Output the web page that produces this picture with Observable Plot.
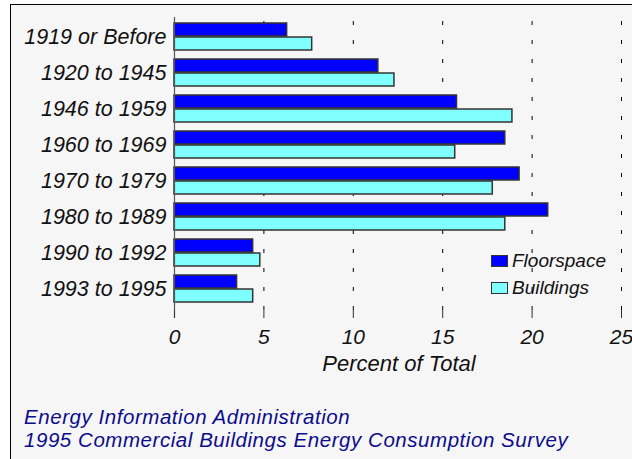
<!DOCTYPE html>
<html>
<head>
<meta charset="utf-8">
<script src="https://cdn.jsdelivr.net/npm/d3@7"></script>
<script src="https://cdn.jsdelivr.net/npm/@observablehq/plot@0.6"></script>
<style>
html, body { margin: 0; padding: 0; background: #ffffff; }
body { width: 632px; height: 459px; position: relative; overflow: hidden; font-family: "Liberation Sans", Arial, sans-serif; }
#frame { position: absolute; left: 10px; top: 4px; width: 640px; height: 470px; border-left: 1px solid #000; border-top: 1px solid #000; background: #f6f6f6; }
#chart { position: absolute; left: 0; top: 0; }
#chart svg { overflow: visible; }
.sw { position: absolute; left: 491px; width: 17px; height: 12px; box-sizing: border-box; border: 1.5px solid #333; }
.lt { position: absolute; left: 512px; font-style: italic; font-size: 19px; line-height: 19px; color: #111; white-space: nowrap; }
.ft { position: absolute; left: 24px; font-style: italic; font-size: 20.5px; line-height: 23px; letter-spacing: 0.55px; color: #0c0c8c; white-space: nowrap; }
</style>
</head>
<body>
<div id="frame"></div>
<div id="chart"></div>
<div id="legend"></div>
<div id="footer"></div>
<script>
// ---- data ----
const periods = ["1919 or Before", "1920 to 1945", "1946 to 1959", "1960 to 1969",
                 "1970 to 1979", "1980 to 1989", "1990 to 1992", "1993 to 1995"];
const floorspace = [6.3, 11.4, 15.8, 18.5, 19.3, 20.9, 4.4, 3.5];
const buildings  = [7.7, 12.3, 18.9, 15.7, 17.8, 18.5, 4.8, 4.4];
const series = ["Floorspace", "Buildings"];
const seriesColors = ["#0000ff", "#80ffff"];
const xTicks = [0, 5, 10, 15, 20, 25];
const xLabel = "Percent of Total";
const footerLines = ["Energy Information Administration", "1995 Commercial Buildings Energy Consumption Survey"];

// ---- layout ----
const W = 632, H = 390, mL = 174, mR = 11, mT = 17, mB = 72;
const padIn = 0.24, padOut = 0.2035, align = 0.267;
const step = (H - mT - mB) / (periods.length - padIn + 2 * padOut);
const bw = step * (1 - padIn);

const floorRows = periods.map((p, i) => ({period: p, series: series[0], value: floorspace[i]}));
const buildRows = periods.map((p, i) => ({period: p, series: series[1], value: buildings[i]}));

const chart = Plot.plot({
  width: W, height: H,
  marginLeft: mL, marginRight: mR, marginTop: mT, marginBottom: mB,
  style: {background: "transparent", fontFamily: "'Liberation Sans', Arial, sans-serif", fontSize: "21px", fontStyle: "italic", color: "#111"},
  x: {domain: [0, 25], ticks: xTicks, label: null},
  y: {domain: periods, paddingInner: padIn, paddingOuter: padOut, align: align, label: null},
  color: {domain: series, range: seriesColors},
  marks: [
    Plot.gridX(xTicks.filter(t => t > 0), {stroke: "#000", strokeOpacity: 1, strokeWidth: 1, strokeDasharray: "4,15", strokeDashoffset: -4}),
    Plot.barX(floorRows, {y: "period", x: "value", fill: "series", stroke: "#333", strokeWidth: 1.5, insetBottom: bw / 2}),
    Plot.barX(buildRows, {y: "period", x: "value", fill: "series", stroke: "#333", strokeWidth: 1.5, insetTop: bw / 2}),
    Plot.ruleX([0], {stroke: "#555", strokeWidth: 1.2}),
    Plot.ruleX(xTicks, {stroke: "#333", strokeWidth: 1, insetTop: H - mT - mB - 8}),
    Plot.axisX(xTicks, {tickSize: 0, tickPadding: 11, fontSize: 21, label: null}),
    Plot.axisY({tickSize: 0, tickPadding: 8, fontSize: 21.5, label: null}),
    Plot.text([xLabel], {text: d => d, frameAnchor: "bottom", dy: 52, dx: 1, fontSize: 22})
  ]
});
document.getElementById("chart").appendChild(chart);

// ---- legend ----
const legend = document.getElementById("legend");
const swTop = [255, 282];
const txTop = [250.5, 278];
series.forEach((s, i) => {
  const sw = document.createElement("div");
  sw.className = "sw";
  sw.style.top = swTop[i] + "px";
  sw.style.background = seriesColors[i];
  legend.appendChild(sw);
  const t = document.createElement("div");
  t.className = "lt";
  t.style.top = txTop[i] + "px";
  t.textContent = s;
  legend.appendChild(t);
});

// ---- footer ----
const footer = document.getElementById("footer");
const footerTop = [405, 428];
footerLines.forEach((line, i) => {
  const d = document.createElement("div");
  d.className = "ft";
  d.style.top = footerTop[i] + "px";
  d.textContent = line;
  footer.appendChild(d);
});
</script>
</body>
</html>
